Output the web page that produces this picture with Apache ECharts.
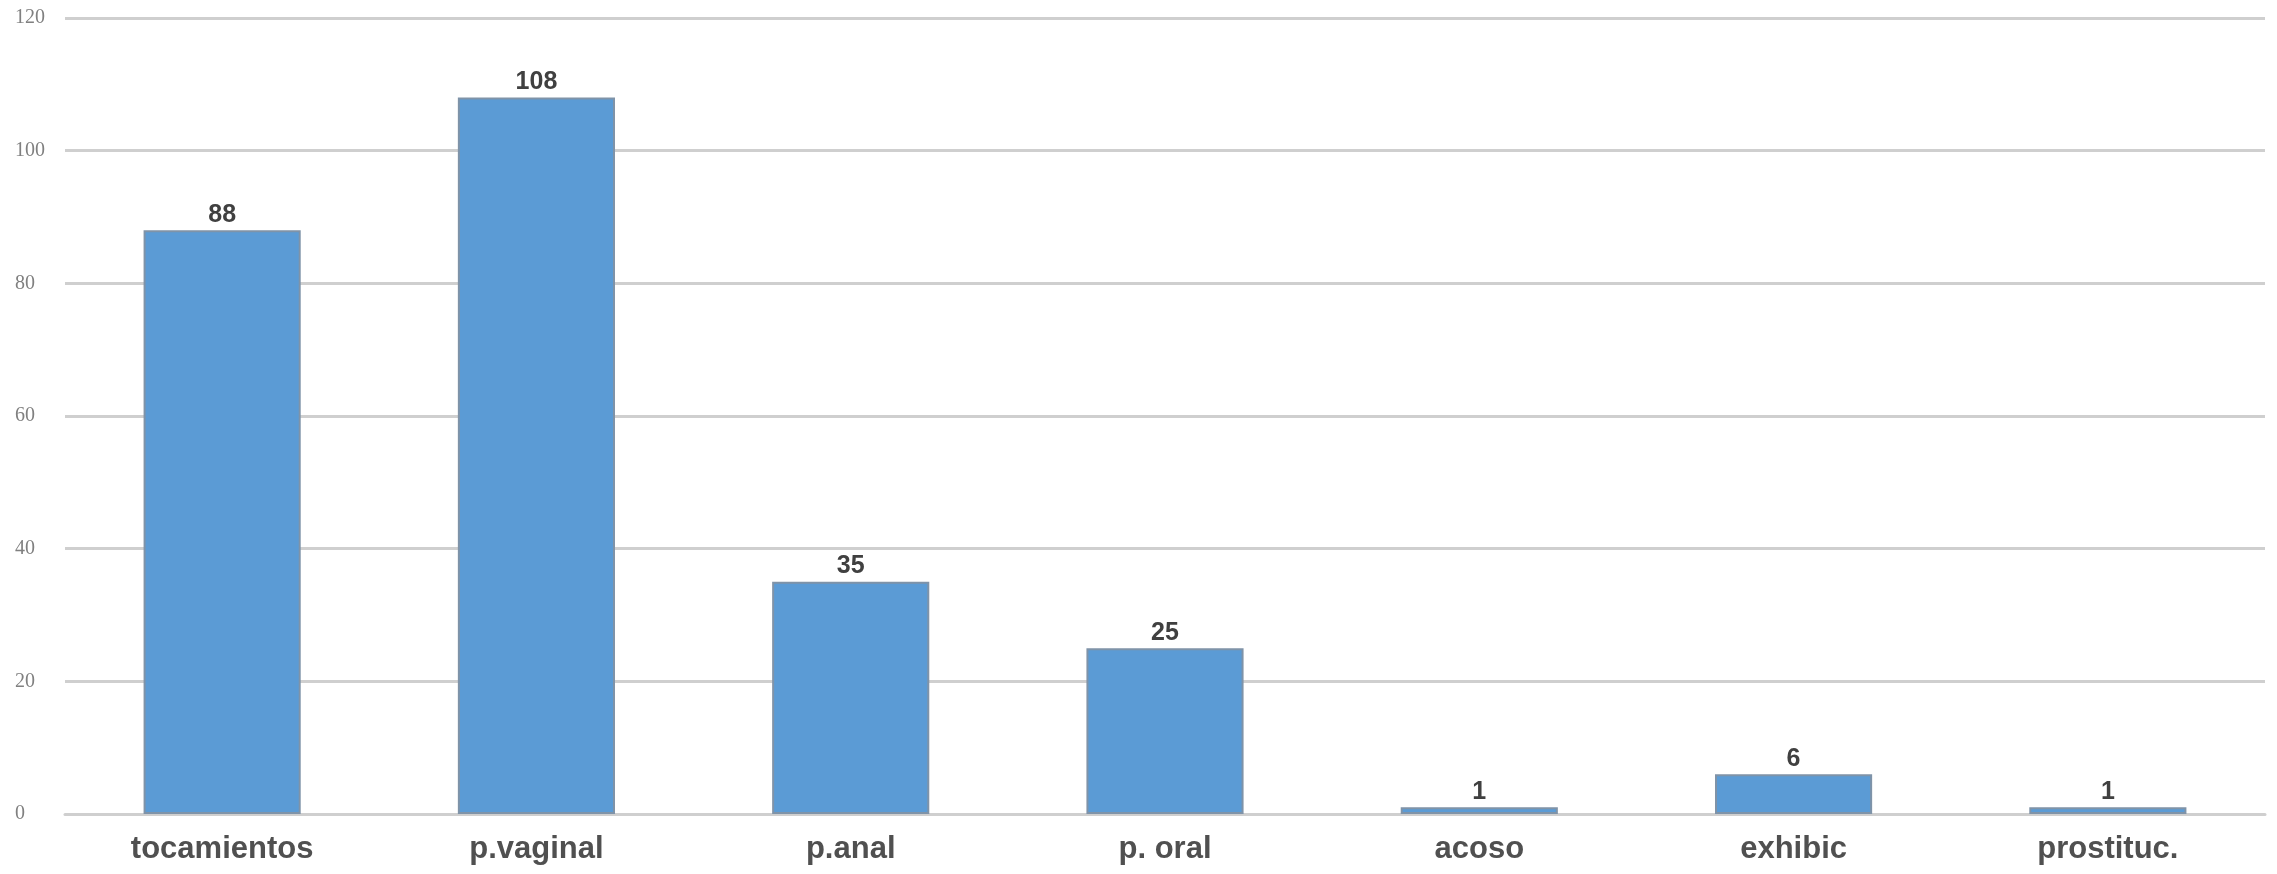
<!DOCTYPE html>
<html>
<head>
<meta charset="utf-8">
<script src="https://cdn.jsdelivr.net/npm/echarts@6/dist/echarts.min.js"></script>
<style>html,body{margin:0;padding:0;background:#fff}#c{width:2277px;height:874px}</style>
</head>
<body>
<div id="c"></div>
<script>
const categories = ['tocamientos', 'p.vaginal', 'p.anal', 'p. oral', 'acoso', 'exhibic', 'prostituc.'];
const values = [88, 108, 35, 25, 1, 6, 1];
const yTicks = [0, 20, 40, 60, 80, 100, 120];

const chart = echarts.init(document.getElementById('c'));
chart.setOption({
  animation: false,
  grid: { left: 65, right: 12, top: 18, bottom: 60, containLabel: false },
  xAxis: {
    type: 'category',
    data: categories,
    axisLine: { show: true, lineStyle: { color: '#cfcfcf', width: 3 } },
    axisTick: { show: false },
    axisLabel: { color: '#505050', fontFamily: 'Liberation Sans', fontWeight: 'bold', fontSize: 31, margin: 20 }
  },
  yAxis: {
    type: 'value',
    min: yTicks[0],
    max: yTicks[yTicks.length - 1],
    interval: 20,
    axisLine: { show: false },
    axisTick: { show: false },
    splitLine: { lineStyle: { color: '#cfcfcf', width: 3 } },
    axisLabel: { color: '#808080', fontFamily: 'Liberation Serif', fontSize: 20, align: 'left', margin: 50 }
  },
  series: [{
    type: 'bar',
    data: values,
    barWidth: '50%',
    itemStyle: { color: '#5b9bd5', borderColor: '#7f93a8', borderWidth: 2 },
    label: { show: true, position: 'top', distance: 3, color: '#404040', fontFamily: 'Liberation Sans', fontWeight: 'bold', fontSize: 25 }
  }]
});
</script>
</body>
</html>
